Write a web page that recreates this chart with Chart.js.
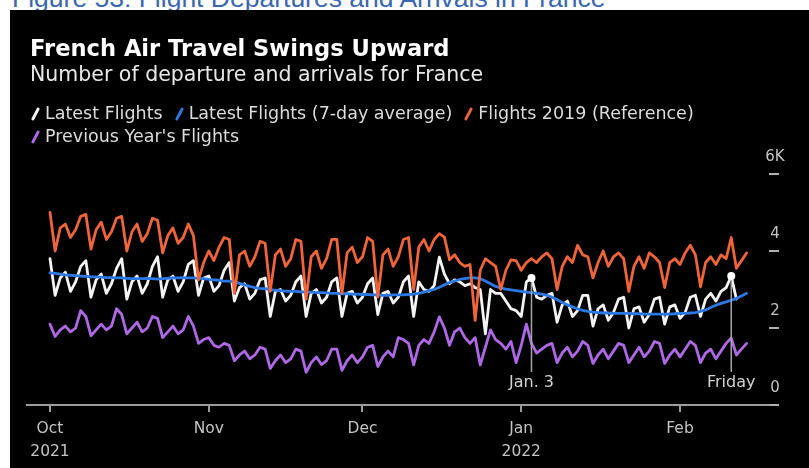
<!DOCTYPE html>
<html>
<head>
<meta charset="utf-8">
<script src="https://cdn.jsdelivr.net/npm/chart.js@4.4.1/dist/chart.umd.min.js"></script>
<style>
  html, body { margin: 0; padding: 0; }
  body { width: 809px; height: 468px; overflow: hidden; background: #fff; position: relative; font-family: "DejaVu Sans", sans-serif; }
  #caption { position: absolute; left: 12px; top: -17px; font: 26.5px/30px "Liberation Sans", Arial, sans-serif; color: #3a68b0; white-space: nowrap; }
  #panel { position: absolute; left: 10px; top: 10px; width: 799px; height: 458px; background: #000; }
  #panel canvas { position: absolute; left: 0; top: 0; }
  .head { position: absolute; left: 20px; white-space: nowrap; }
  #title { top: 25px; font-size: 22.6px; line-height: 26px; font-weight: bold; color: #fff; }
  #subtitle { top: 52px; font-size: 20.5px; line-height: 24px; color: #e8e8e8; }
  #legend { position: absolute; left: 20px; top: 92px; width: 720px; display: flex; flex-wrap: wrap; font-size: 17.5px; line-height: 23px; color: #dcdcdc; }
  .item { display: flex; align-items: center; margin-right: 11px; white-space: nowrap; }
  .swatch { width: 3px; height: 14px; border-radius: 2px; transform: rotate(28deg); margin: 0 8px 0 4px; }
</style>
</head>
<body>
<div id="caption">Figure 53: Flight Departures and Arrivals in France</div>
<div id="panel">
  <canvas id="chart" width="799" height="458"></canvas>
  <div id="title" class="head">French Air Travel Swings Upward</div>
  <div id="subtitle" class="head">Number of departure and arrivals for France</div>
  <div id="legend"></div>
</div>
<script>
// Daily flights (thousands), day 0 = Fri 1 Oct 2021, one row per week (Fri..Thu)
const latestFlights = [
  3.80, 2.85, 3.30, 3.45, 2.95, 3.20, 3.60,
  3.75, 2.80, 3.25, 3.40, 2.90, 3.15, 3.55,
  3.80, 2.75, 3.20, 3.35, 2.90, 3.15, 3.60,
  3.85, 2.80, 3.25, 3.35, 2.95, 3.20, 3.65,
  3.75, 2.85, 3.30, 3.35, 2.95, 3.10, 3.50,
  3.70, 2.70, 3.05, 3.15, 2.75, 2.90, 3.25,
  3.30, 2.30, 2.95, 3.00, 2.70, 2.85, 3.20,
  3.35, 2.30, 2.90, 3.00, 2.65, 2.80, 3.20,
  3.30, 2.30, 2.90, 2.95, 2.65, 2.80, 3.15,
  3.30, 2.35, 2.90, 2.95, 2.65, 2.80, 3.20,
  3.35, 2.30, 3.20, 3.00, 2.95, 3.10, 3.84,
  3.40, 3.15, 3.25, 3.20, 3.10, 3.15, 3.05,
  3.00, 1.85, 3.00, 2.90, 2.90, 2.70, 2.50,
  2.45, 2.30, 3.20, 3.30, 2.80, 2.75, 2.85,
  2.90, 2.15, 2.60, 2.70, 2.30, 2.45, 2.85,
  2.85, 2.05, 2.50, 2.60, 2.20, 2.40, 2.75,
  2.80, 2.00, 2.50, 2.55, 2.15, 2.35, 2.75,
  2.80, 2.10, 2.55, 2.60, 2.25, 2.40, 2.80,
  2.85, 2.30, 2.75, 2.90, 2.70, 2.95, 3.05,
  3.35, 2.75,
];

const latestAvg = [
  3.43, 3.42, 3.40, 3.38, 3.37, 3.36, 3.35,
  3.34, 3.33, 3.33, 3.32, 3.31, 3.31, 3.30,
  3.30, 3.29, 3.28, 3.28, 3.28, 3.29, 3.28,
  3.27, 3.28, 3.29, 3.30, 3.30, 3.31, 3.30,
  3.30, 3.29, 3.28, 3.26, 3.25, 3.24, 3.22,
  3.22, 3.20, 3.16, 3.12, 3.08, 3.05, 3.03,
  3.02, 3.00, 2.98, 2.97, 2.96, 2.95, 2.95,
  2.94, 2.93, 2.93, 2.92, 2.92, 2.91, 2.90,
  2.90, 2.89, 2.89, 2.88, 2.88, 2.87, 2.87,
  2.86, 2.86, 2.85, 2.85, 2.86, 2.86, 2.86,
  2.87, 2.88, 2.90, 2.93, 2.97, 3.00, 3.06,
  3.12, 3.18, 3.22, 3.26, 3.28, 3.30, 3.30,
  3.28, 3.22, 3.15, 3.08, 3.04, 3.01, 2.99,
  2.97, 2.95, 2.93, 2.92, 2.90, 2.88, 2.85,
  2.80, 2.74, 2.66, 2.60, 2.55, 2.50, 2.46,
  2.43, 2.41, 2.40, 2.39, 2.39, 2.38, 2.38,
  2.38, 2.38, 2.37, 2.37, 2.36, 2.36, 2.36,
  2.36, 2.36, 2.36, 2.37, 2.38, 2.38, 2.39,
  2.40, 2.43, 2.47, 2.53, 2.59, 2.64, 2.68,
  2.72, 2.77, 2.83, 2.90,
];

const flights2019 = [
  5.00, 4.00, 4.60, 4.70, 4.35, 4.55, 4.90,
  4.95, 4.05, 4.55, 4.75, 4.30, 4.50, 4.85,
  4.90, 4.00, 4.50, 4.70, 4.25, 4.45, 4.85,
  4.80, 3.95, 4.40, 4.60, 4.20, 4.35, 4.70,
  4.40, 3.25, 3.70, 4.00, 3.75, 4.10, 4.35,
  4.30, 2.90, 3.90, 4.00, 3.60, 3.85, 4.25,
  4.20, 2.95, 3.90, 4.05, 3.60, 3.80, 4.30,
  4.25, 2.75, 3.85, 4.00, 3.55, 3.80, 4.30,
  4.30, 2.90, 3.95, 4.10, 3.70, 3.85, 4.35,
  4.25, 2.80, 3.90, 4.05, 3.60, 3.85, 4.30,
  4.35, 3.00, 4.10, 4.30, 4.00, 4.30, 4.45,
  4.36, 3.77, 3.90, 3.70, 3.60, 3.65, 2.20,
  3.50, 3.80, 3.70, 3.60, 3.00, 3.50, 3.77,
  3.75, 3.50, 3.70, 3.80, 3.70, 3.85, 3.95,
  3.80, 3.00, 3.60, 3.85, 3.70, 4.15, 3.90,
  3.85, 3.30, 3.70, 4.00, 3.60, 3.85, 3.95,
  3.80, 2.95, 3.60, 3.85, 3.55, 3.95, 3.85,
  3.70, 3.05, 3.70, 3.80, 3.65, 3.95, 4.15,
  3.90, 3.07, 3.70, 3.85, 3.65, 3.90, 3.80,
  4.35, 3.55, 3.75, 3.95,
];

const previousYear = [
  2.10, 1.78, 1.95, 2.05, 1.90, 2.00, 2.45,
  2.30, 1.80, 1.95, 2.10, 1.95, 2.05, 2.50,
  2.35, 1.85, 2.00, 2.15, 1.90, 2.00, 2.30,
  2.25, 1.75, 1.90, 2.05, 1.85, 1.95, 2.30,
  2.05, 1.60, 1.70, 1.75, 1.55, 1.50, 1.60,
  1.55, 1.15, 1.30, 1.40, 1.20, 1.30, 1.50,
  1.45, 0.95, 1.15, 1.30, 1.10, 1.20, 1.45,
  1.40, 0.85, 1.10, 1.25, 1.05, 1.15, 1.45,
  1.45, 0.90, 1.15, 1.30, 1.10, 1.25, 1.50,
  1.55, 1.00, 1.25, 1.40, 1.25, 1.75, 1.70,
  1.60, 1.04, 1.55, 1.70, 1.60, 1.90, 2.29,
  2.00, 1.55, 1.90, 2.00, 1.75, 1.60, 1.75,
  1.04, 1.50, 1.95, 1.70, 1.60, 1.45, 1.65,
  1.10, 1.55, 2.10, 1.60, 1.35, 1.45, 1.55,
  1.60, 1.10, 1.35, 1.50, 1.25, 1.40, 1.65,
  1.55, 1.08, 1.30, 1.45, 1.20, 1.40, 1.60,
  1.55, 1.10, 1.30, 1.50, 1.25, 1.40, 1.65,
  1.60, 1.08, 1.30, 1.45, 1.25, 1.45, 1.65,
  1.55, 1.10, 1.35, 1.45, 1.20, 1.40, 1.60,
  1.74, 1.30, 1.45, 1.60,
];

const seriesNames = ["Latest Flights", "Latest Flights (7-day average)", "Flights 2019 (Reference)", "Previous Year's Flights"];
const seriesColors = ["#f4f4f4", "#2a78e4", "#f0643a", "#ae68e6"];

// month starts, as days since 1 Oct 2021
const monthTicks = [0, 31, 61, 92, 123];
const monthLabels = [["Oct", "2021"], ["Nov"], ["Dec"], ["Jan", "2022"], ["Feb"]];
const yTicks = [0, 2, 4, 6];
const yTickLabels = ["0", "2", "4", "6K"];

const callouts = [
  { day: 94, label: "Jan. 3" },
  { day: 133, label: "Friday" },
];

// ---- legend ----
const legend = document.getElementById("legend");
seriesNames.forEach((name, i) => {
  const item = document.createElement("div");
  item.className = "item";
  item.innerHTML = `<span class="swatch" style="background:${seriesColors[i]}"></span>${name}`;
  legend.appendChild(item);
});

// ---- chart ----
const dayIndex = flights2019.map((_, i) => i);
const seriesData = [latestFlights, latestAvg, flights2019, previousYear];
// drawn top-most first: 2019, avg, latest, previous year
const drawOrder = [2, 1, 0, 3];

const overlay = {
  id: "overlay",
  afterDatasetsDraw(chart) {
    const { ctx, chartArea, scales: { x, y } } = chart;
    ctx.save();
    callouts.forEach((c) => {
      const px = x.getPixelForValue(c.day);
      const py = y.getPixelForValue(latestFlights[c.day]);
      ctx.strokeStyle = "#a6a6a6";
      ctx.lineWidth = 1.5;
      ctx.beginPath();
      ctx.moveTo(px, py);
      ctx.lineTo(px, chartArea.bottom - 33);
      ctx.stroke();
      ctx.fillStyle = "#ffffff";
      ctx.beginPath();
      ctx.arc(px, py, 4, 0, Math.PI * 2);
      ctx.fill();
      ctx.fillStyle = "#d2d2d2";
      ctx.font = '16px "DejaVu Sans"';
      ctx.textAlign = "center";
      ctx.textBaseline = "middle";
      ctx.fillText(c.label, px, chartArea.bottom - 22);
    });
    // value labels sit just above each tick dash on the right
    ctx.fillStyle = "#c4c4c4";
    ctx.font = '15px "DejaVu Sans"';
    ctx.textAlign = "center";
    ctx.textBaseline = "middle";
    yTicks.forEach((v, i) => {
      ctx.fillText(yTickLabels[i], y.left + 6, y.getPixelForValue(v) - 17);
    });
    ctx.restore();
  },
};

new Chart(document.getElementById("chart"), {
  type: "line",
  data: {
    labels: dayIndex,
    datasets: seriesNames.map((name, i) => ({
      label: name,
      data: seriesData[i],
      borderColor: seriesColors[i],
      borderWidth: 2.8,
      pointRadius: 0,
      tension: 0,
      borderJoinStyle: "round",
      borderCapStyle: "round",
      order: drawOrder.indexOf(i),
    })),
  },
  options: {
    responsive: false,
    animation: false,
    devicePixelRatio: 1,
    layout: { padding: { left: 17, top: 164, right: 0, bottom: 0 } },
    plugins: { legend: { display: false }, tooltip: { enabled: false } },
    scales: {
      x: {
        type: "linear",
        min: -4.49,
        max: 140.37,
        afterBuildTicks: (axis) => { axis.ticks = monthTicks.map((value) => ({ value })); },
        afterFit: (axis) => { axis.height = 63; },
        grid: { drawOnChartArea: false, drawTicks: true, tickLength: 7, color: "#9c9c9c", lineWidth: 2 },
        border: { display: true, color: "#9c9c9c", width: 2 },
        ticks: {
          autoSkip: false,
          maxRotation: 0,
          padding: 6,
          color: "#c4c4c4",
          font: { family: "DejaVu Sans", size: 15.5, lineHeight: 1.45 },
          callback: (value) => monthLabels[monthTicks.indexOf(value)],
        },
      },
      y: {
        position: "right",
        min: 0,
        max: 6,
        afterBuildTicks: (axis) => { axis.ticks = yTicks.map((value) => ({ value })); },
        afterFit: (axis) => { axis.width = 40; },
        grid: { drawOnChartArea: false, drawTicks: true, tickLength: 10, color: "#b0b0b0", lineWidth: 2 },
        border: { display: false },
        ticks: { display: false },
      },
    },
  },
  plugins: [overlay],
});
</script>
</body>
</html>
